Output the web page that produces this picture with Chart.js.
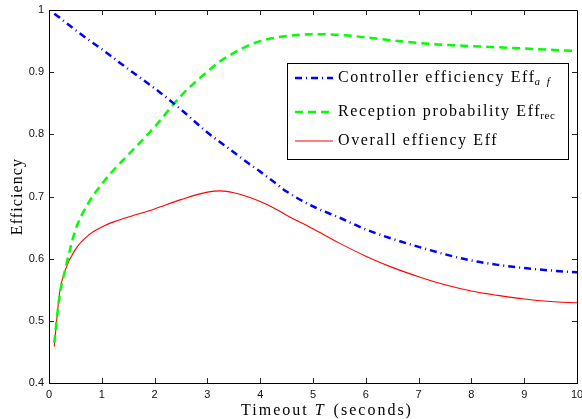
<!DOCTYPE html>
<html>
<head>
<meta charset="utf-8">
<script src="https://cdn.jsdelivr.net/npm/chart.js@4/dist/chart.umd.min.js"></script>
<style>
  html, body { margin: 0; padding: 0; background: #fff; }
  #wrap { width: 582px; height: 419px; position: relative; }
</style>
</head>
<body>
<div id="wrap"><canvas id="c" width="582" height="419"></canvas></div>
<script>
// ---- data ----
const timeout = [0.1, 0.2, 0.3, 0.5, 0.75, 1, 1.25, 1.5, 2, 2.5, 3, 3.25, 3.5, 3.75, 4, 4.25, 4.5, 5, 5.5, 6, 6.5, 7, 7.5, 8, 8.5, 9, 9.5, 10];
const controllerEff = [0.994, 0.988, 0.981, 0.968, 0.952, 0.937, 0.921, 0.905, 0.874, 0.840, 0.803, 0.787, 0.771, 0.755, 0.740, 0.724, 0.708, 0.684, 0.666, 0.647, 0.632, 0.619, 0.607, 0.597, 0.590, 0.585, 0.581, 0.578];
const receptionProb = [0.465, 0.540, 0.580, 0.646, 0.690, 0.720, 0.745, 0.767, 0.812, 0.862, 0.901, 0.918, 0.931, 0.942, 0.950, 0.955, 0.958, 0.961, 0.960, 0.956, 0.951, 0.947, 0.944, 0.942, 0.940, 0.938, 0.936, 0.934];
const overallEff = [0.459, 0.545, 0.580, 0.615, 0.638, 0.651, 0.660, 0.667, 0.680, 0.695, 0.707, 0.709, 0.706, 0.700, 0.692, 0.682, 0.670, 0.648, 0.625, 0.604, 0.586, 0.571, 0.558, 0.548, 0.541, 0.535, 0.531, 0.529];
const xTickValues = [0, 1, 2, 3, 4, 5, 6, 7, 8, 9, 10];
const yTickValues = [0.4, 0.5, 0.6, 0.7, 0.8, 0.9, 1];
const yTickLabels = ['0.4', '0.5', '0.6', '0.7', '0.8', '0.9', '1'];
const legendLabels = ['Controller efficiency Eff', 'Reception probability Eff', 'Overall effiency Eff'];
const legendSubs = ['a f', 'rec', ''];
const xTitle = ['Timeout ', 'T', ' (seconds)'];
const yTitle = 'Efficiency';

const SERIF = '"Liberation Serif", "DejaVu Serif", serif';

function toPoints(xs, ys) { return xs.map((x, i) => ({ x: x, y: ys[i] })); }

const decorPlugin = {
  id: 'decor',
  afterDraw(chart) {
    const ctx = chart.ctx;
    const ca = chart.chartArea;
    const xs = chart.scales.x, ys = chart.scales.y;
    ctx.save();
    // box top/right
    ctx.strokeStyle = '#000';
    ctx.lineWidth = 1;
    ctx.beginPath();
    ctx.moveTo(ca.left, Math.round(ca.top) + 0.5);
    ctx.lineTo(ca.right + 0.5, Math.round(ca.top) + 0.5);
    ctx.lineTo(Math.round(ca.right) + 0.5, ca.bottom);
    ctx.stroke();
    // inward ticks
    const tl = 5;
    ctx.strokeStyle = '#222';
    ctx.beginPath();
    xTickValues.forEach(v => {
      const px = Math.round(xs.getPixelForValue(v)) + 0.5;
      if (v === xs.min || v === xs.max) return;
      ctx.moveTo(px, ca.bottom); ctx.lineTo(px, ca.bottom - tl);
      ctx.moveTo(px, ca.top); ctx.lineTo(px, ca.top + tl);
    });
    yTickValues.forEach(v => {
      const py = Math.round(ys.getPixelForValue(v)) + 0.5;
      if (v === ys.min || v === ys.max) return;
      ctx.moveTo(ca.left, py); ctx.lineTo(ca.left + tl, py);
      ctx.moveTo(ca.right, py); ctx.lineTo(ca.right - tl, py);
    });
    ctx.stroke();

    // axis titles
    ctx.fillStyle = '#000';
    ctx.letterSpacing = '2px';
    ctx.textBaseline = 'alphabetic';
    const f = '16px ' + SERIF, fi = 'italic 16px ' + SERIF;
    ctx.font = f;
    const w0 = ctx.measureText(xTitle[0]).width;
    const w2 = ctx.measureText(xTitle[2]).width;
    ctx.font = fi;
    const w1 = ctx.measureText(xTitle[1]).width;
    const total = w0 + w1 + w2;
    let x0 = 326 - total / 2;
    const ty = 415;
    ctx.textAlign = 'left';
    ctx.font = f; ctx.fillText(xTitle[0], x0, ty);
    ctx.font = fi; ctx.fillText(xTitle[1], x0 + w0, ty);
    ctx.font = f; ctx.fillText(xTitle[2], x0 + w0 + w1 + 2, ty);

    ctx.save();
    ctx.translate(22, (ca.top + ca.bottom) / 2);
    ctx.rotate(-Math.PI / 2);
    ctx.textAlign = 'center';
    ctx.letterSpacing = '1.1px';
    ctx.font = f;
    ctx.fillText(yTitle, 0, 0);
    ctx.restore();

    // legend
    const bx = 287, by = 63, bw = 281, bh = 96;
    ctx.fillStyle = '#fff';
    ctx.fillRect(bx, by, bw, bh);
    ctx.strokeStyle = '#000';
    ctx.lineWidth = 1;
    ctx.strokeRect(bx + 0.5, by + 0.5, bw, bh);
    const rows = [78, 112, 141];
    chart.data.datasets.forEach((ds, i) => {
      const ry = rows[i];
      ctx.save();
      ctx.strokeStyle = ds.borderColor;
      ctx.lineWidth = ds.borderWidth;
      ctx.setLineDash(ds.borderDash || []);
      ctx.beginPath();
      ctx.moveTo(295, ry); ctx.lineTo(333, ry);
      ctx.stroke();
      ctx.restore();
      ctx.fillStyle = '#000';
      ctx.textAlign = 'left';
      ctx.textBaseline = 'middle';
      ctx.font = f;
      ctx.letterSpacing = '1.6px';
      ctx.fillText(legendLabels[i], 338, ry);
      const lw = ctx.measureText(legendLabels[i]).width;
      if (legendSubs[i]) {
        ctx.font = (i === 0 ? 'italic ' : '') + '11px ' + SERIF;
        ctx.letterSpacing = (i === 0 ? '2px' : '0.6px');
        ctx.fillText(legendSubs[i], 338 + lw - 1, ry + 4);
      }
    });
    ctx.restore();
  }
};

new Chart(document.getElementById('c'), {
  type: 'line',
  data: {
    datasets: [
      { label: legendLabels[0], data: toPoints(timeout, controllerEff), borderColor: '#0000ff', borderWidth: 2.5, borderDash: [7, 4, 1, 4], pointRadius: 0, cubicInterpolationMode: 'monotone', fill: false },
      { label: legendLabels[1], data: toPoints(timeout, receptionProb), borderColor: '#00ff00', borderWidth: 2.5, borderDash: [8, 5], pointRadius: 0, cubicInterpolationMode: 'monotone', fill: false },
      { label: legendLabels[2], data: toPoints(timeout, overallEff), borderColor: '#ff0000', borderWidth: 1.1, pointRadius: 0, cubicInterpolationMode: 'monotone', fill: false }
    ]
  },
  options: {
    responsive: false,
    animation: false,
    events: [],
    layout: { padding: { left: 0, top: 10, right: 5, bottom: 0 } },
    plugins: { legend: { display: false }, tooltip: { enabled: false } },
    scales: {
      x: {
        type: 'linear', min: 0, max: 10,
        afterBuildTicks: s => { s.ticks = xTickValues.map(v => ({ value: v })); },
        afterFit: s => { s.height = 36; s.paddingLeft = 0; s.paddingRight = 0; },
        grid: { display: true, drawOnChartArea: false, drawTicks: false },
        border: { display: true, color: '#000', width: 1 },
        ticks: { color: '#111', font: { family: '"Liberation Sans", Arial, sans-serif', size: 11 }, padding: 5, maxRotation: 0, callback: v => String(v) }
      },
      y: {
        type: 'linear', min: 0.4, max: 1,
        afterBuildTicks: s => { s.ticks = yTickValues.map(v => ({ value: v })); },
        afterFit: s => { s.width = 49; s.paddingTop = 0; s.paddingBottom = 0; },
        grid: { display: true, drawOnChartArea: false, drawTicks: false },
        border: { display: true, color: '#000', width: 1 },
        ticks: { color: '#111', font: { family: '"Liberation Sans", Arial, sans-serif', size: 11 }, padding: 5,
          callback: (v) => { const i = yTickValues.findIndex(t => Math.abs(t - v) < 1e-9); return i >= 0 ? yTickLabels[i] : ''; } }
      }
    }
  },
  plugins: [decorPlugin]
});
</script>
</body>
</html>
